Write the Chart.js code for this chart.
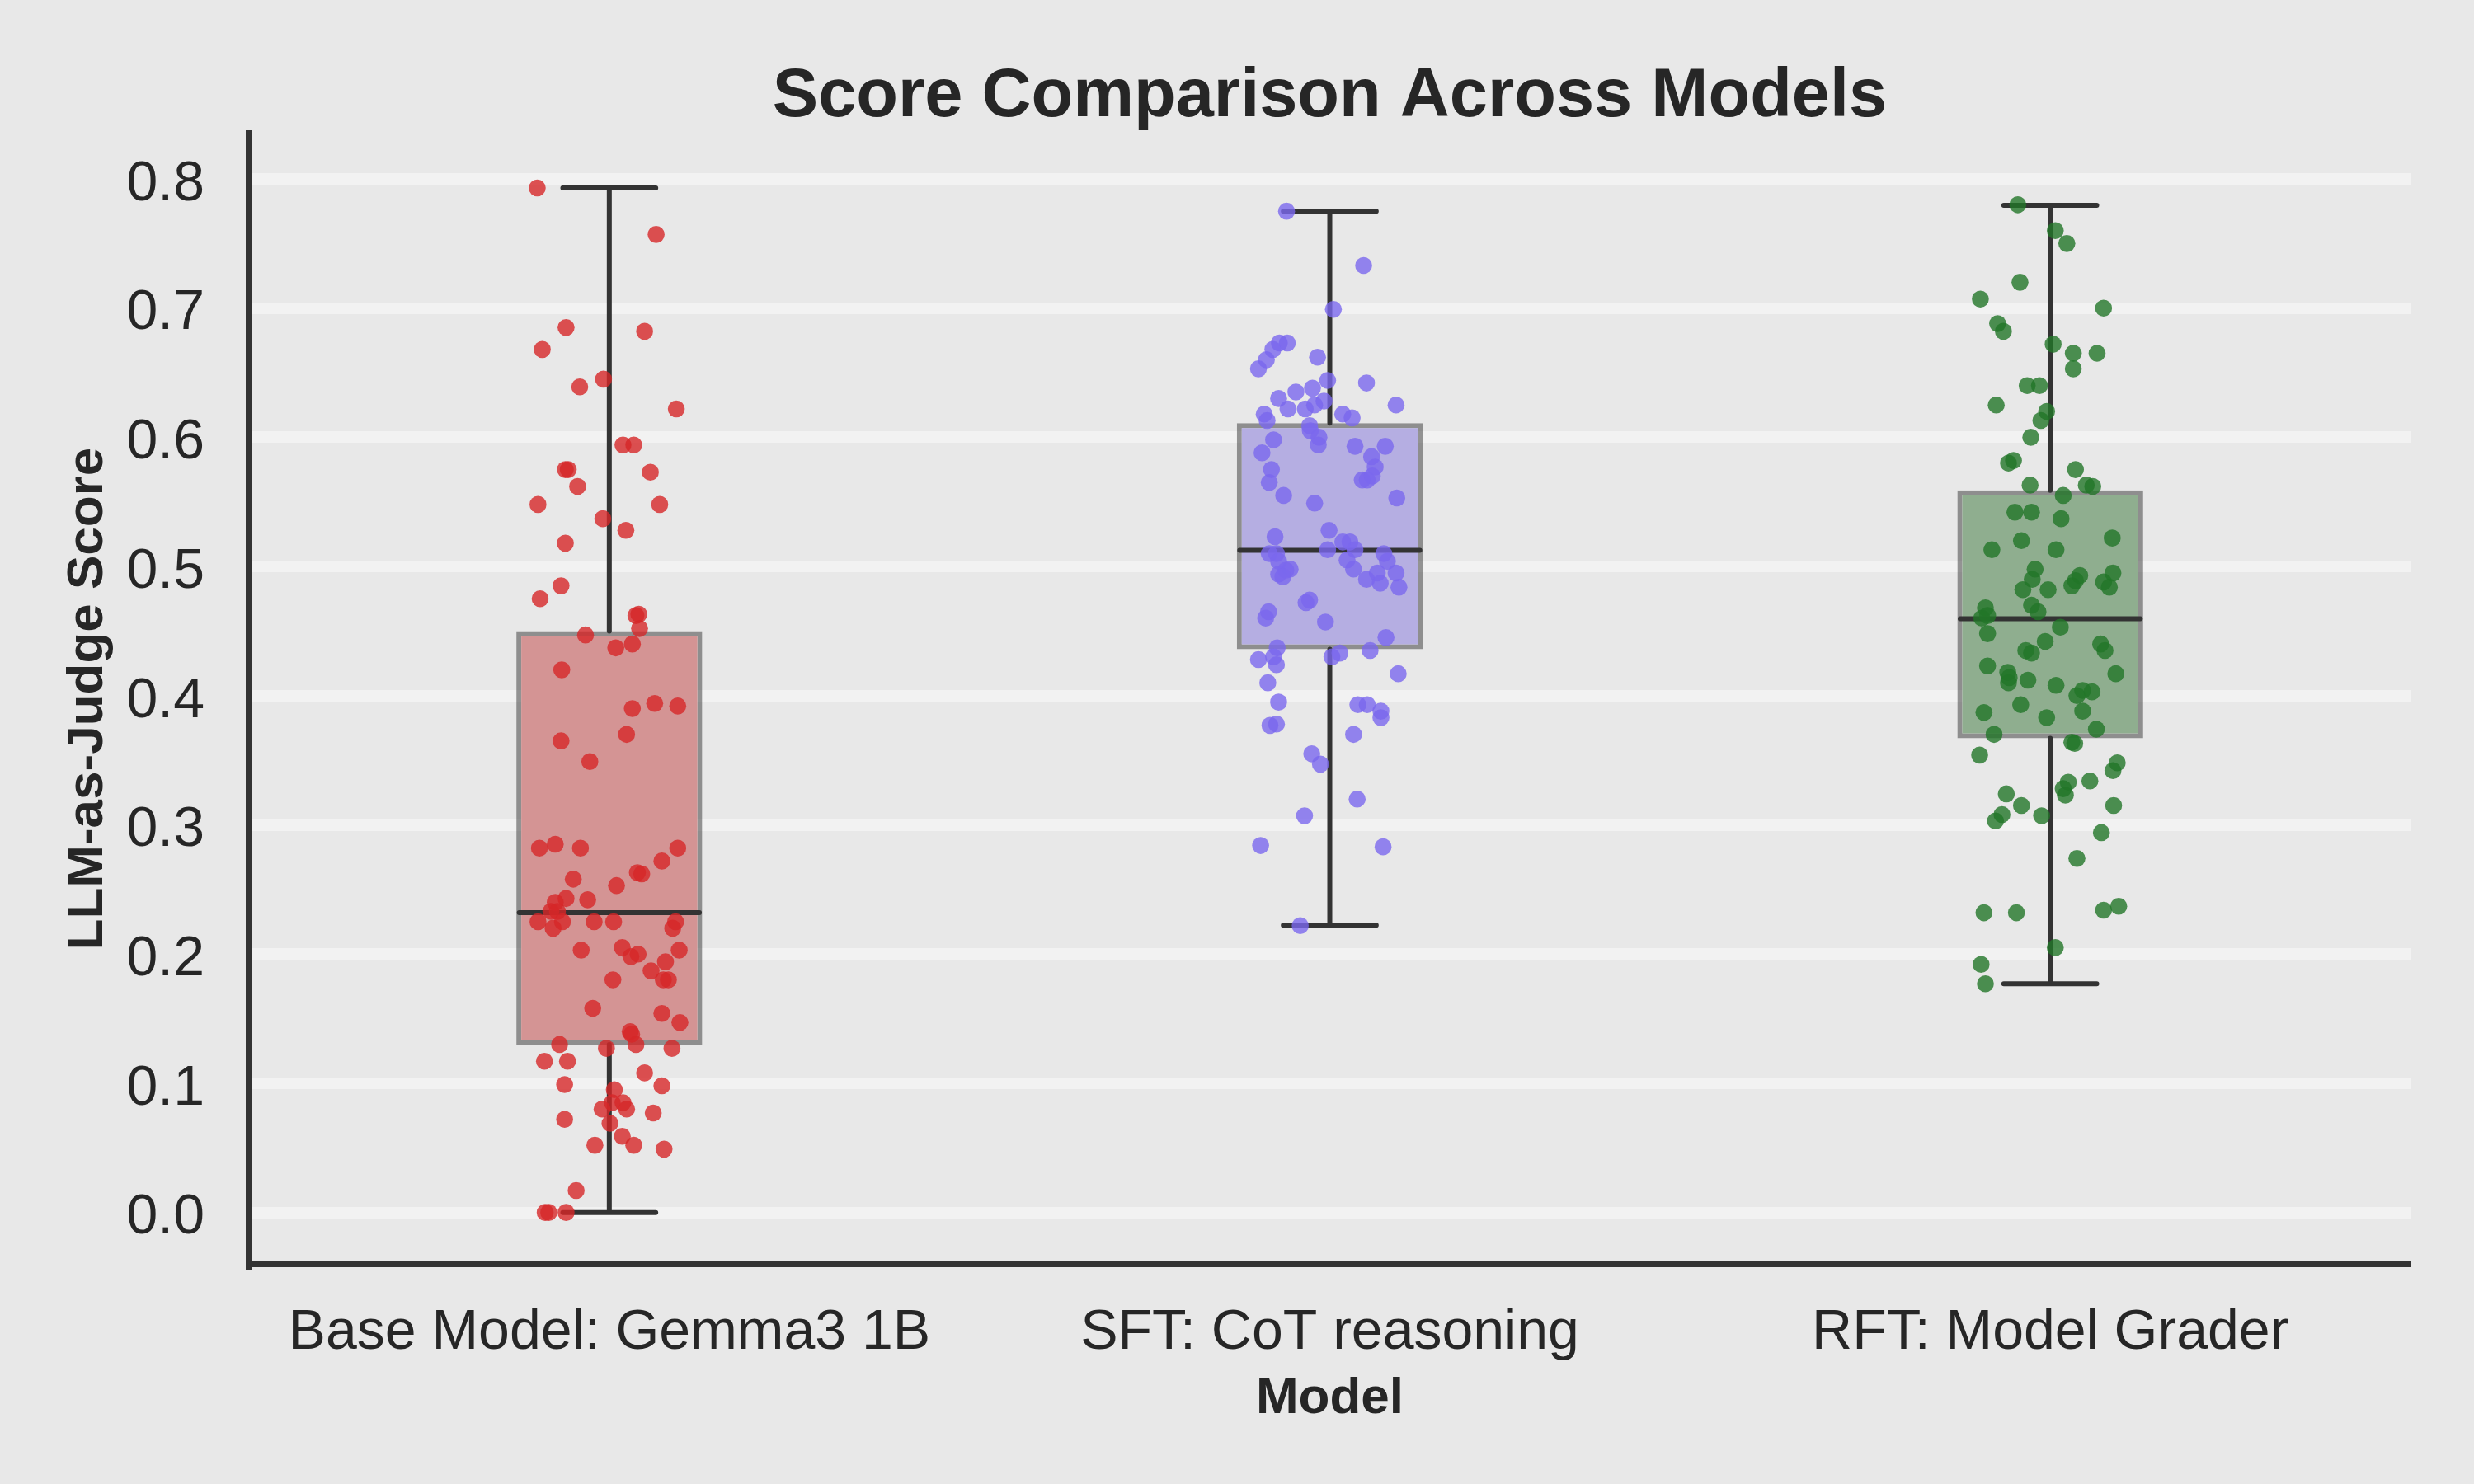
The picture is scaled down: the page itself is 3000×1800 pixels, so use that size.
<!DOCTYPE html>
<html>
<head>
<meta charset="utf-8">
<script src="https://cdn.jsdelivr.net/npm/chart.js@4.4.0/dist/chart.umd.min.js"></script>
<style>
  html, body { margin: 0; padding: 0; background: #e8e8e8; }
  #wrap { width: 3000px; height: 1800px; }
</style>
</head>
<body>
<div id="wrap"><canvas id="c" width="3000" height="1800"></canvas></div>
<script>
// ---------------- DATA ----------------
const models = ["Base Model: Gemma3 1B", "SFT: CoT reasoning", "RFT: Model Grader"];
const yTicks = [0.0, 0.1, 0.2, 0.3, 0.4, 0.5, 0.6, 0.7, 0.8];

// box-plot statistics
const q1 = [0.130, 0.436, 0.367];
const medians = [0.232, 0.5125, 0.4595];
const q3 = [0.450, 0.611, 0.559];
const whiskerLow = [0.000, 0.2223, 0.177];
const whiskerHigh = [0.793, 0.775, 0.7795];

// individual scores (strip plot) and their horizontal jitter
const baseScores = [0.793,0.757,0.685,0.682,0.668,0.639,0.645,0.622,0.594,0.594,0.575,0.575,0.573,0.562,0.548,0.548,0.537,0.528,0.518,0.485,0.475,0.462,0.463,0.452,0.447,0.437,0.440,0.420,0.390,0.394,0.392,0.365,0.370,0.349,0.282,0.285,0.282,0.282,0.272,0.263,0.262,0.258,0.253,0.240,0.243,0.242,0.233,0.233,0.225,0.220,0.225,0.225,0.225,0.225,0.220,0.203,0.205,0.198,0.200,0.203,0.194,0.187,0.180,0.180,0.180,0.158,0.154,0.147,0.140,0.138,0.130,0.130,0.127,0.127,0.117,0.117,0.108,0.099,0.098,0.095,0.080,0.085,0.085,0.080,0.077,0.072,0.069,0.059,0.052,0.052,0.049,0.017,0.000,0.000,0.000];
const baseJitter = [-0.100,0.065,-0.060,0.049,-0.093,-0.041,-0.008,0.093,0.019,0.034,-0.061,-0.057,0.057,-0.044,-0.099,0.070,-0.009,0.023,-0.061,-0.067,-0.096,0.037,0.041,0.042,-0.033,0.009,0.032,-0.066,0.032,0.063,0.095,-0.067,0.024,-0.027,-0.097,-0.075,-0.040,0.095,0.073,0.039,0.045,-0.050,0.010,-0.075,-0.060,-0.030,-0.081,-0.072,-0.099,-0.078,-0.065,-0.021,0.006,0.092,0.088,-0.039,0.018,0.030,0.040,0.097,0.078,0.058,0.075,0.082,0.005,-0.023,0.073,0.098,0.029,0.031,0.037,-0.069,-0.004,0.087,-0.090,-0.058,0.049,-0.062,0.073,0.007,-0.010,0.004,0.019,0.024,0.061,-0.062,0.001,0.018,-0.020,0.034,0.076,-0.046,-0.089,-0.084,-0.060];

const sftScores = [0.775,0.733,0.699,0.673,0.673,0.668,0.660,0.653,0.662,0.644,0.642,0.630,0.635,0.638,0.622,0.622,0.625,0.628,0.625,0.618,0.613,0.618,0.615,0.609,0.605,0.600,0.594,0.598,0.588,0.593,0.593,0.585,0.577,0.575,0.565,0.567,0.567,0.570,0.555,0.549,0.553,0.528,0.523,0.519,0.519,0.513,0.513,0.510,0.510,0.504,0.510,0.504,0.505,0.498,0.498,0.497,0.494,0.492,0.495,0.495,0.490,0.487,0.484,0.474,0.472,0.465,0.460,0.457,0.445,0.437,0.428,0.430,0.424,0.430,0.433,0.435,0.417,0.410,0.395,0.393,0.393,0.388,0.383,0.377,0.378,0.370,0.355,0.347,0.320,0.307,0.284,0.283,0.222];
const sftJitter = [-0.060,0.047,0.005,-0.070,-0.059,-0.079,-0.088,-0.099,-0.017,-0.003,0.051,-0.071,-0.047,-0.024,-0.058,-0.034,-0.021,-0.008,0.092,-0.091,-0.087,0.018,0.031,-0.028,-0.027,-0.015,-0.016,-0.078,-0.094,0.035,0.077,0.058,0.063,-0.081,-0.084,0.045,0.052,0.059,-0.064,-0.021,0.093,-0.001,-0.076,0.018,0.028,0.035,-0.003,-0.084,-0.074,-0.071,0.075,0.080,0.024,0.033,-0.055,-0.061,-0.071,-0.065,0.092,0.066,0.051,0.070,0.096,-0.028,-0.033,-0.085,-0.089,-0.006,0.078,-0.073,-0.099,-0.078,-0.074,0.003,0.014,0.056,0.095,-0.086,-0.071,0.039,0.052,0.071,0.071,-0.083,-0.074,0.033,-0.025,-0.013,0.038,-0.035,-0.096,0.074,-0.041];

const rftScores = [0.780,0.760,0.750,0.720,0.707,0.700,0.688,0.682,0.672,0.665,0.665,0.653,0.640,0.640,0.625,0.620,0.613,0.600,0.582,0.580,0.575,0.563,0.563,0.562,0.555,0.542,0.542,0.537,0.522,0.520,0.513,0.513,0.498,0.490,0.493,0.489,0.485,0.495,0.488,0.484,0.482,0.482,0.470,0.465,0.468,0.460,0.462,0.453,0.448,0.442,0.435,0.433,0.440,0.435,0.423,0.418,0.414,0.410,0.412,0.408,0.417,0.404,0.403,0.400,0.387,0.393,0.383,0.388,0.374,0.370,0.364,0.363,0.354,0.348,0.342,0.334,0.333,0.328,0.323,0.324,0.315,0.315,0.308,0.303,0.307,0.294,0.274,0.232,0.232,0.234,0.237,0.205,0.192,0.177];
const rftJitter = [-0.045,0.007,0.023,-0.042,-0.097,0.074,-0.073,-0.065,0.004,0.032,0.065,0.032,-0.032,-0.015,-0.075,-0.005,-0.013,-0.027,-0.051,-0.058,0.035,-0.028,0.050,0.059,0.018,-0.049,-0.026,0.015,0.086,-0.040,-0.081,0.008,-0.021,-0.025,0.041,0.035,0.030,0.087,0.074,0.082,-0.038,-0.003,-0.026,-0.017,-0.090,-0.095,-0.087,0.014,-0.087,-0.007,-0.034,-0.026,0.070,0.076,-0.087,-0.059,-0.057,-0.058,-0.031,0.008,0.091,0.045,0.058,0.037,-0.092,-0.041,-0.005,0.045,0.064,-0.078,0.030,0.034,-0.098,0.093,0.087,0.055,0.025,0.018,0.021,-0.061,-0.040,0.088,-0.067,-0.076,-0.012,0.071,0.037,-0.092,-0.047,0.074,0.095,0.007,-0.096,-0.090];

// ---------------- STYLE ----------------
const FONT = "'Liberation Sans', Arial, Helvetica, sans-serif";
const TEXT = '#262626';
const pointColors = ['rgba(214,39,40,0.8)', 'rgba(123,104,238,0.8)', 'rgba(34,118,40,0.8)'];
const boxColors = ['#d49494', '#b5aee2', '#8fae8f'];
const BOX_W = 0.258;          // box width in category units
const CAP_HALF = BOX_W / 4;   // caps are half the box width
const MED_HALF = BOX_W / 2 - 0.004;

// ---------------- BUILD DATASETS ----------------
const groups = [
  {scores: baseScores, jitter: baseJitter},
  {scores: sftScores, jitter: sftJitter},
  {scores: rftScores, jitter: rftJitter}
];

const scatterSets = groups.map((g, i) => ({
  type: 'scatter',
  label: models[i],
  data: g.scores.map((s, k) => ({x: i + g.jitter[k], y: s})),
  backgroundColor: pointColors[i],
  borderWidth: 0,
  pointRadius: 10.3,
  pointHoverRadius: 10.3,
  order: 0
}));

const whiskerData = [];
models.forEach((_, i) => {
  whiskerData.push({x: i, y: q3[i]}, {x: i, y: whiskerHigh[i]}, {x: i, y: null});
  whiskerData.push({x: i, y: q1[i]}, {x: i, y: whiskerLow[i]}, {x: i, y: null});
  whiskerData.push({x: i - CAP_HALF, y: whiskerHigh[i]}, {x: i + CAP_HALF, y: whiskerHigh[i]}, {x: i, y: null});
  whiskerData.push({x: i - CAP_HALF, y: whiskerLow[i]}, {x: i + CAP_HALF, y: whiskerLow[i]}, {x: i, y: null});
  whiskerData.push({x: i - MED_HALF, y: medians[i]}, {x: i + MED_HALF, y: medians[i]}, {x: i, y: null});
});

const whiskerSet = {
  type: 'line',
  label: 'whiskers',
  data: whiskerData,
  borderColor: '#333333',
  borderWidth: 6,
  borderCapStyle: 'round',
  pointRadius: 0,
  spanGaps: false,
  fill: false,
  order: 1
};

const boxSet = {
  type: 'bar',
  label: 'boxes',
  data: models.map((_, i) => ({x: i, y: [q1[i], q3[i]]})),
  backgroundColor: boxColors,
  borderColor: 'rgba(51,51,51,0.5)',
  borderWidth: 6,
  borderSkipped: false,
  barPercentage: BOX_W,
  categoryPercentage: 1.0,
  order: 2
};

new Chart(document.getElementById('c'), {
  type: 'bar',
  data: { datasets: [boxSet, whiskerSet, ...scatterSets] },
  options: {
    responsive: false,
    animation: false,
    devicePixelRatio: 1,
    layout: { padding: { left: 0, right: 77, top: 0, bottom: 0 } },
    plugins: {
      legend: { display: false },
      tooltip: { enabled: false },
      title: {
        display: true,
        text: 'Score Comparison Across Models',
        fullSize: false,
        color: TEXT,
        font: { family: FONT, size: 83, weight: 'bold', lineHeight: 1.05 },
        padding: { top: 75, bottom: 0 }
      }
    },
    scales: {
      x: {
        type: 'linear',
        min: -0.5,
        max: 2.5,
        offset: false,
        afterBuildTicks: (s) => { s.ticks = models.map((_, i) => ({value: i})); },
        afterFit: (s) => { s.height = 267; },
        ticks: {
          callback: (v) => models[Math.round(v)],
          color: TEXT,
          font: { family: FONT, size: 68 },
          padding: 43,
          maxRotation: 0,
          minRotation: 0,
          autoSkip: false
        },
        grid: { display: false, drawTicks: false },
        border: { display: true, color: '#333333', width: 8 },
        title: {
          display: true,
          text: 'Model',
          color: TEXT,
          font: { family: FONT, size: 62, weight: 'bold' },
          padding: { top: 0, bottom: 66 }
        }
      },
      y: {
        type: 'linear',
        min: -0.0398,
        max: 0.835,
        afterBuildTicks: (s) => { s.ticks = yTicks.map(v => ({value: v})); },
        afterFit: (s) => { s.width = 302; },
        ticks: {
          callback: (v) => Number(v).toFixed(1),
          color: TEXT,
          font: { family: FONT, size: 68 },
          padding: 54,
          labelOffset: 7
        },
        grid: { color: '#f2f2f2', lineWidth: 14, drawTicks: false },
        border: { display: true, color: '#333333', width: 8 },
        title: {
          display: true,
          text: 'LLM-as-Judge Score',
          color: TEXT,
          font: { family: FONT, size: 62, weight: 'bold' },
          padding: { top: 70, bottom: 0 }
        }
      }
    }
  }
});
</script>
</body>
</html>
